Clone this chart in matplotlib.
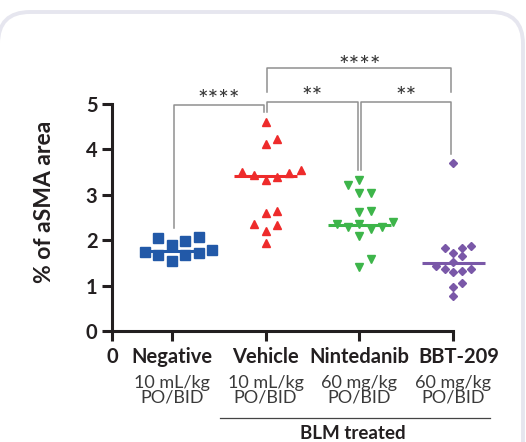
import numpy as np
import matplotlib.pyplot as plt
import matplotlib.transforms as mtransforms
from matplotlib.patches import FancyBboxPatch

plt.rcParams['font.family'] = ['Lato', 'DejaVu Sans']

# groups and doses shown under the x axis
groups = ['Negative', 'Vehicle', 'Nintedanib', 'BBT-209']
doses = ['10 mL/kg\nPO/BID', '10 mL/kg\nPO/BID', '60 mg/kg\nPO/BID', '60 mg/kg\nPO/BID']

# % of aSMA area
negative = [1.54, 1.67, 1.67, 1.71, 1.75, 1.78, 1.89, 1.99, 2.04, 2.06]
vehicle = [1.93, 2.20, 2.33, 2.36, 2.61, 2.64, 3.33, 3.40, 3.44, 3.49, 3.51, 3.55, 4.11, 4.24, 4.61]
nintedanib = [1.42, 1.58, 2.09, 2.24, 2.28, 2.30, 2.35, 2.35, 2.41, 2.63, 2.64, 3.05, 3.05, 3.22, 3.33]
bbt209 = [0.77, 0.96, 1.06, 1.31, 1.33, 1.36, 1.36, 1.44, 1.51, 1.65, 1.71, 1.82, 1.83, 1.87, 3.69]
medians = [1.77, 3.41, 2.33, 1.50]

# significance brackets: (group a, group b, stars)
comparisons = [(1, 2, '****'), (2, 3, '**'), (3, 4, '**'), (2, 4, '****')]

colors = ['#2259a8', '#ee2b2b', '#3db54a', '#7a58a8']
markers = ['s', '^', 'v', 'D']
msizes = [6.5, 5.6, 5.4, 4.2]   # points
ink = '#231f20'


def swarm(ax, vals, center, step, mind):
    # simple beeswarm: lowest value first, nearest free slot to the centre
    pts = ax.transData.transform(np.column_stack([np.full(len(vals), center), vals]))
    placed = []
    xs = np.empty(len(vals))
    cands = [0.0]
    for k in range(1, 12):
        cands += [k * step, -k * step]
    for i in np.argsort(vals, kind='stable'):
        x0, y0 = pts[i]
        for dx in cands:
            if all((x0 + dx - px) ** 2 + (y0 - py) ** 2 >= mind ** 2 for px, py in placed):
                break
        placed.append((x0 + dx, y0))
        xs[i] = x0 + dx
    return ax.transData.inverted().transform(np.column_stack([xs, pts[:, 1]]))[:, 0]


fig = plt.figure(figsize=(5.26, 4.42), dpi=100)

# light rounded card behind the chart
card = FancyBboxPatch((-0.02, -0.6), 5.25, 4.9, boxstyle='round,pad=0,rounding_size=0.32',
                      transform=fig.dpi_scale_trans, fc='white', ec='#e6e6ef', lw=2.8,
                      zorder=-10)
fig.patches.append(card)

ax = fig.add_axes([0.2129, 0.2511, 0.7204, 0.5136])
ax.set_xlim(0.364, 4.4)
ax.set_ylim(0, 5)
ax.patch.set_alpha(0)

for s in ['top', 'right']:
    ax.spines[s].set_visible(False)
for s in ['left', 'bottom']:
    ax.spines[s].set_linewidth(2.2)
    ax.spines[s].set_color(ink)
ax.spines['bottom'].set_bounds(0.364, 4.0)

ax.set_yticks([0, 1, 2, 3, 4, 5])
ax.set_xticks([0.364, 1, 2, 3, 4])
ax.set_xticklabels(['0'] + groups)
ax.tick_params(axis='both', direction='out', length=7.5, width=2.2, color=ink,
               labelcolor=ink)
ax.tick_params(axis='x', pad=4, labelsize=14.5)
ax.tick_params(axis='y', pad=3, labelsize=14.5)
for lab in ax.get_xticklabels() + ax.get_yticklabels():
    lab.set_fontweight('bold')
# nudge the last group name a little to the right, as in the original
last = ax.get_xticklabels()[-1]
last.set_transform(last.get_transform() +
                   mtransforms.ScaledTranslation(4 / 72, 0, fig.dpi_scale_trans))
ax.set_ylabel('% of aSMA area', fontsize=16.5, fontweight='bold', color=ink)
ax.yaxis.set_label_coords(-0.15, 0.57)

data = [negative, vehicle, nintedanib, bbt209]
ms_px = [m * 100 / 72 for m in msizes]
for i, vals in enumerate(data):
    pos = i + 1
    xs = swarm(ax, vals, pos, ms_px[i] * 1.5, ms_px[i] * 1.35)
    ax.plot(xs, vals, ls='none', marker=markers[i], ms=msizes[i], color=colors[i],
            mec=colors[i], clip_on=False, zorder=3)
    ax.plot([pos - 0.335, pos + 0.335], [medians[i], medians[i]], color=colors[i],
            lw=2.2, solid_capstyle='butt', zorder=4)

# brackets
gray = '#8f8f8f'
tops = [4.98, 5.05, 5.05, 5.79]
for (a, b, stars), top in zip(comparisons, tops):
    xa, xb = a + 0.02, b - 0.02
    if b - a > 1:
        ya = yb = top - 0.52
    else:
        ya = max(data[a - 1]) + 0.21
        yb = max(data[b - 1]) + 0.21
    ax.plot([xa, xa, xb, xb], [ya, top, top, yb], color=gray, lw=1.1, clip_on=False)
    ax.text((xa + xb) / 2, top + (0.04 if b - a > 1 else 0.1), stars, ha='center',
            va='center', fontsize=18, color='#333333', clip_on=False)

# dose lines under the group names
for i, d in enumerate(doses):
    ax.text(i + 1, -1.3, d, ha='center', va='center', fontsize=13, fontweight='normal',
            color='#3a3a3a', linespacing=0.85, clip_on=False)

ax.plot([1.515, 4.39], [-1.916, -1.916], color='#444444', lw=0.9, clip_on=False)
ax.text(2.93, -2.25, 'BLM treated', ha='center', va='center', fontsize=13.5,
        fontweight='bold', color=ink, clip_on=False)

fig.savefig('out.png', dpi=100)
